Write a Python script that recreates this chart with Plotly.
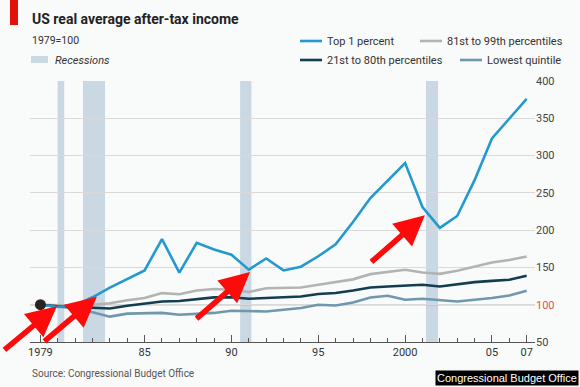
import plotly.graph_objects as go

years = list(range(1979, 2008))
top1 = [100, 97, 99, 110, 123, 134, 146, 188, 143, 183, 174, 167, 147, 162, 146, 151,
        165, 181, 211, 243, 266, 290, 231, 203, 219, 267, 323, 350, 376]
p81_99 = [100, 99, 99, 100, 102, 106, 109, 115.6, 114, 119, 121, 120, 117, 122, 123, 123,
          126.7, 130, 134, 141, 143.7, 146.8, 143.2, 141.4, 145.5, 151, 156.6, 160, 164.6]
p21_80 = [100, 98, 97, 96, 95, 98.7, 102, 104.4, 105, 107, 109.8, 110, 108, 109, 110, 111,
          114.3, 115.6, 119, 123, 124.5, 125.8, 126.7, 124.5, 127.6, 130.3, 132, 133.4, 138.8]
lowest = [100, 97, 95, 90, 84, 88, 89, 89, 86.6, 88, 89, 92, 92, 91, 93.3, 95.5,
          100, 99, 103, 109.8, 112, 106.7, 108, 106.7, 104.4, 106.7, 109, 112.4, 118.7]

recession_start = [1979.99, 1981.45, 1990.5, 2001.2]
recession_end = [1980.37, 1982.72, 1991.15, 2001.9]

x_tickvals = [1979, 1985, 1990, 1995, 2000, 2005, 2007]
x_ticktext = ["1979", "85", "90", "95", "2000", "05", "07"]
y_tickvals = [50, 100, 150, 200, 250, 300, 350, 400]

series_names = ["Lowest quintile", "81st to 99th percentiles", "21st to 80th percentiles", "Top 1 percent"]
series_vals = [lowest, p81_99, p21_80, top1]
series_cols = ["#6f98ae", "#b3b3b3", "#123d52", "#2399cf"]

W, H = 580, 387
L, R, T, B = 30, 45, 81, 45
PW, PH = W - L - R, H - T - B


def px(x):
    return (x - L) / PW


def py(y):
    return (H - B - y) / PH


fig = go.Figure()
for name, vals, col in zip(series_names, series_vals, series_cols):
    fig.add_trace(go.Scatter(x=years, y=vals, mode="lines", name=name,
                             line=dict(color=col, width=2.6), showlegend=False))
fig.add_trace(go.Scatter(x=[years[0]], y=[top1[0]], mode="markers",
                         marker=dict(color="#2a2420", size=11), showlegend=False))

shapes = []
for s, e in zip(recession_start, recession_end):
    shapes.append(dict(type="rect", xref="x", yref="paper", x0=s, x1=e, y0=0, y1=1,
                       fillcolor="#c9d8e2", line=dict(width=0), layer="below"))
shapes.append(dict(type="line", xref="paper", yref="y", x0=0, x1=1, y0=100, y1=100,
                   line=dict(color="#e07a7a", width=1.2), layer="below"))
# red corner bar
shapes.append(dict(type="rect", xref="paper", yref="paper", x0=px(10), x1=px(18),
                   y0=py(25), y1=py(0), fillcolor="#e3120b", line=dict(width=0)))
# recession swatch
shapes.append(dict(type="rect", xref="paper", yref="paper", x0=px(31), x1=px(48),
                   y0=py(63), y1=py(56), fillcolor="#c9d8e2", line=dict(width=0)))

annotations = []
font = "Roboto, Liberation Sans, Arial"
# legend entries
legend_items = [("Top 1 percent", "#2399cf", 300, 41),
                ("81st to 99th percentiles", "#b3b3b3", 420, 41),
                ("21st to 80th percentiles", "#123d52", 300, 60),
                ("Lowest quintile", "#6f98ae", 460, 60)]
for text, col, x0, yy in legend_items:
    shapes.append(dict(type="line", xref="paper", yref="paper", x0=px(x0), x1=px(x0 + 22),
                       y0=py(yy), y1=py(yy), line=dict(color=col, width=2.6)))
    annotations.append(dict(text=text, xref="paper", yref="paper", x=px(x0 + 25), y=py(yy),
                            xanchor="left", yanchor="middle", showarrow=False,
                            font=dict(family=font, size=11, color="#333333")))

annotations.append(dict(text="<b>US real average after-tax income</b>", xref="paper", yref="paper",
                        x=px(30), y=py(19), xanchor="left", yanchor="middle", showarrow=False,
                        font=dict(family=font, size=14, color="#222222")))
annotations.append(dict(text="1979=100", xref="paper", yref="paper",
                        x=px(30), y=py(40), xanchor="left", yanchor="middle", showarrow=False,
                        font=dict(family=font, size=10.5, color="#333333")))
annotations.append(dict(text="<i>Recessions</i>", xref="paper", yref="paper",
                        x=px(53), y=py(60), xanchor="left", yanchor="middle", showarrow=False,
                        font=dict(family=font, size=11, color="#333333")))
annotations.append(dict(text="Source: Congressional Budget Office", xref="paper", yref="paper",
                        x=px(30), y=py(373), xanchor="left", yanchor="middle", showarrow=False,
                        font=dict(family=font, size=10, color="#555555")))
annotations.append(dict(text="Congressional Budget Office", xref="paper", yref="paper",
                        x=px(579), y=py(386), xanchor="right", yanchor="bottom", showarrow=False,
                        bgcolor="#000000", borderpad=1,
                        font=dict(family="Liberation Sans, Arial", size=11, color="#ffffff")))

# red arrows (tip in data coords, tail offset in pixels)
arrow_tips = [(1979.95, 98), (1982.25, 110.7), (1991.07, 144), (2001.14, 220)]
arrow_tails = [(-54, 45), (-54, 46), (-55, 48), (-55, 48)]
for (tx, ty), (ax, ay) in zip(arrow_tips, arrow_tails):
    annotations.append(dict(x=tx, y=ty, xref="x", yref="y", ax=ax, ay=ay, axref="pixel", ayref="pixel",
                            text="", showarrow=True, arrowhead=2, arrowsize=1.1, arrowwidth=5.5,
                            arrowcolor="#ff0a0a", standoff=0))

fig.update_layout(
    width=W, height=H,
    margin=dict(l=L, r=R, t=T, b=B),
    paper_bgcolor="#f9fafa", plot_bgcolor="#f9fafa",
    shapes=shapes, annotations=annotations,
    font=dict(family=font, size=11, color="#333333"),
    xaxis=dict(range=[1978.4, 2007.48], tickvals=x_tickvals, ticktext=x_ticktext,
               ticks="inside", ticklen=7, tickcolor="#555555", showgrid=False, zeroline=False,
               showline=True, linecolor="#555555", linewidth=1,
               minor=dict(ticks="inside", ticklen=4, dtick=1, tick0=1979, tickcolor="#555555", showgrid=False),
               tickfont=dict(size=11, color="#333333")),
    yaxis=dict(range=[50, 400], side="right", tickvals=y_tickvals,
               ticktext=["50", "<span style='color:#d9534f'>100</span>", "150", "200", "250", "300", "350", "400"],
               showgrid=True, gridcolor="#d9d9d9", gridwidth=1, zeroline=False, ticks="",
               showline=False, tickfont=dict(size=11, color="#444444")),
)

fig.write_html("out.html", config={"displayModeBar": False},
               post_script="document.body.style.margin='0';document.body.style.overflow='hidden';")
